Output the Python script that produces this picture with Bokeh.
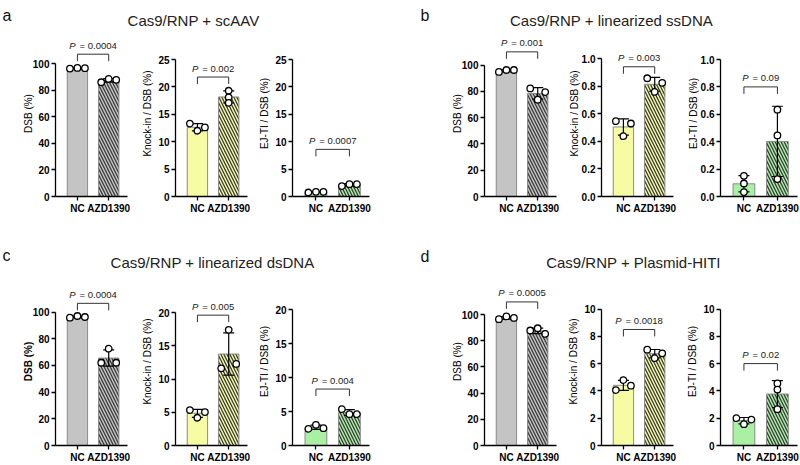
import numpy as np
from bokeh.plotting import figure
from bokeh.layouts import row, column
from bokeh.models import Range1d, FixedTicker, PrintfTickFormatter, Label, ColumnDataSource
from bokeh.core.properties import value
from bokeh.embed import file_html
from bokeh.resources import INLINE

# ---------------- data ----------------
groups = ["NC", "AZD1390"]
panel_letters = ["a", "b", "c", "d"]
panel_titles = ["Cas9/RNP + scAAV", "Cas9/RNP + linearized ssDNA",
                "Cas9/RNP + linearized dsDNA", "Cas9/RNP + Plasmid-HITI"]
y_labels = ["DSB (%)", "Knock-in / DSB (%)", "EJ-TI / DSB (%)"]

# replicate values (three per group)
a_dsb_nc = [96.2, 96.7, 96.5]
a_dsb_azd = [85.9, 88.4, 87.7]
a_ki_nc = [13.3, 12.0, 12.6]
a_ki_azd = [19.3, 18.1, 17.1]
a_ejti_nc = [0.73, 0.85, 0.85]
a_ejti_azd = [1.9, 2.25, 2.25]

b_dsb_nc = [94.7, 96.2, 96.2]
b_dsb_azd = [82.2, 73.6, 79.4]
b_ki_nc = [0.546, 0.437, 0.529]
b_ki_azd = [0.857, 0.758, 0.824]
b_ejti_nc = [0.151, 0.095, 0.032]
b_ejti_azd = [0.634, 0.446, 0.127]

c_dsb_nc = [95.75, 97.0, 96.25]
c_dsb_azd = [62.0, 72.5, 62.0]
c_ki_nc = [5.33, 4.17, 5.03]
c_ki_azd = [11.6, 17.4, 12.26]
c_ejti_nc = [2.45, 3.04, 2.55]
c_ejti_azd = [5.34, 4.6, 4.6]

d_dsb_nc = [96.4, 98.5, 97.4]
d_dsb_azd = [87.8, 89.5, 85.2]
d_ki_nc = [4.06, 4.79, 4.38]
d_ki_azd = [7.02, 6.4, 6.75]
d_ejti_nc = [2.0, 1.56, 1.9]
d_ejti_azd = [4.55, 4.1, 2.66]

# P values
a_p = ["0.0004", "0.002", "0.0007"]
b_p = ["0.001", "0.003", "0.09"]
c_p = ["0.0004", "0.005", "0.004"]
d_p = ["0.0005", "0.0018", "0.02"]

# y-axis ticks
a_ticks = [[0, 20, 40, 60, 80, 100], [0, 5, 10, 15, 20, 25], [0, 5, 10, 15, 20, 25]]
b_ticks = [[0, 20, 40, 60, 80, 100], [0, 0.2, 0.4, 0.6, 0.8, 1.0], [0, 0.2, 0.4, 0.6, 0.8, 1.0]]
c_ticks = [[0, 20, 40, 60, 80, 100], [0, 5, 10, 15, 20], [0, 5, 10, 15, 20]]
d_ticks = [[0, 20, 40, 60, 80, 100], [0, 2, 4, 6, 8, 10], [0, 2, 4, 6, 8, 10]]

# bracket levels (data units)
a_bracket = [107, 21.8, 8.6]
b_bracket = [110, 0.94, 0.80]
c_bracket = [106.5, 19.6, 8.3]
d_bracket = [109.6, 8.5, 6.0]

# ---------------- style / layout ----------------
FONT = "Liberation Sans"
fills = ["#c4c4c4", "#f6fca4", "#a9f0a4"]
outline = "#8a8a8a"
hatch_col = "#3a3a3a"
XR = (0.3, 2.6)
TICK_FS = 10
LABEL_FS = 10

panels = [
    dict(data=[(a_dsb_nc, a_dsb_azd), (a_ki_nc, a_ki_azd), (a_ejti_nc, a_ejti_azd)],
         p=a_p, ticks=a_ticks, bracket=a_bracket, spans=[133, 137, 137],
         lefts=[55, 40, 40], frames=[72, 72, 77], rights=[8, 5, 31], bold=[False] * 3,
         letter_xy=(2, 15), title_xy=(193, 20)),
    dict(data=[(b_dsb_nc, b_dsb_azd), (b_ki_nc, b_ki_azd), (b_ejti_nc, b_ejti_azd)],
         p=b_p, ticks=b_ticks, bracket=b_bracket, spans=[131.5, 138, 137],
         lefts=[84, 40, 42], frames=[72, 72, 77], rights=[5, 5, 3], bold=[False] * 3,
         letter_xy=(20, 15), title_xy=(211, 20)),
    dict(data=[(c_dsb_nc, c_dsb_azd), (c_ki_nc, c_ki_azd), (c_ejti_nc, c_ejti_azd)],
         p=c_p, ticks=c_ticks, bracket=c_bracket, spans=[133.5, 133, 136],
         lefts=[55, 40, 40], frames=[72, 72, 77], rights=[8, 5, 31], bold=[True, False, False],
         letter_xy=(2, 23), title_xy=(212, 30)),
    dict(data=[(d_dsb_nc, d_dsb_azd), (d_ki_nc, d_ki_azd), (d_ejti_nc, d_ejti_azd)],
         p=d_p, ticks=d_ticks, bracket=d_bracket, spans=[131, 136.5, 136.5],
         lefts=[84, 40, 42], frames=[72, 72, 77], rights=[5, 5, 3], bold=[False] * 3,
         letter_xy=(20, 24), title_xy=(233, 30)),
]

CW = {"P": 0.667, " ": 0.278, "=": 0.584, ".": 0.278}


def text_w(s, fs):
    return sum(CW.get(ch, 0.556) for ch in s) * fs


def spread(vals, pxu, xpx):
    v = np.array(vals)
    d = np.abs(v[:, None] - v[None, :]) * pxu
    np.fill_diagonal(d, 1e9)
    if d.min() < 5:
        return (np.arange(len(vals)) - (len(vals) - 1) / 2) * 7.5 / xpx
    return np.zeros(len(vals))


def subplot(nc, azd, metric, ticks, span, bracket, ptxt, L, FW, R, H, B, bold):
    frame_h = H - B
    ymax = ticks[-1]
    pxu = span / ymax
    y_end = frame_h / pxu
    xpx = FW / (XR[1] - XR[0])
    p = figure(width=L + FW + R, height=H, x_range=Range1d(*XR), y_range=Range1d(0, y_end),
               output_backend="svg", toolbar_location=None, title=None,
               min_border_left=L, min_border_right=R, min_border_top=0, min_border_bottom=B)
    p.outline_line_color = None
    p.grid.visible = False
    p.background_fill_color = "white"

    xs = np.arange(1, len(groups) + 1)
    sets = [nc, azd]
    means = [float(np.mean(s)) for s in sets]
    sds = [float(np.std(s, ddof=1)) for s in sets]

    src_nc = ColumnDataSource(dict(x=[xs[0]], top=[means[0]]))
    src_az = ColumnDataSource(dict(x=[xs[1]], top=[means[1]]))
    p.vbar(x="x", top="top", width=0.65, source=src_nc, fill_color=fills[metric],
           line_color=outline, line_width=1)
    p.vbar(x="x", top="top", width=0.65, source=src_az, fill_color=fills[metric],
           line_color=outline, line_width=1, hatch_pattern="left_diagonal_line",
           hatch_color=hatch_col, hatch_weight=1.3, hatch_scale=6)

    cap = 5.5 / xpx
    lo = [m - s for m, s in zip(means, sds)]
    hi = [m + s for m, s in zip(means, sds)]
    p.segment(x0=list(xs), y0=lo, x1=list(xs), y1=hi, line_color="black", line_width=1.2)
    p.segment(x0=list(xs - cap), y0=hi, x1=list(xs + cap), y1=hi, line_color="black", line_width=1.2)
    p.segment(x0=list(xs - cap), y0=lo, x1=list(xs + cap), y1=lo, line_color="black", line_width=1.2)

    for xi, s in zip(xs, sets):
        off = spread(s, pxu, xpx)
        p.scatter(x=list(xi + off), y=list(s), size=6.5, marker="circle", fill_color="white",
                  line_color="black", line_width=1.3)

    leg = 7 / pxu
    p.line(x=[xs[0], xs[0], xs[1], xs[1]], y=[bracket - leg, bracket, bracket, bracket - leg],
           line_color="#333333", line_width=1)
    fs = 9.5
    rest = "= " + ptxt
    gap = 4
    pw = text_w("P", fs)
    tw = pw + gap + text_w(rest, fs)
    ty = bracket + 9 / pxu
    xm = float(xs.mean())
    p.text(x=[xm], y=[ty], text=["P"], x_offset=-tw / 2, text_align="left", text_baseline="middle",
           text_font=value(FONT), text_font_style="italic", text_font_size=f"{fs}px", text_color="#222222")
    p.text(x=[xm], y=[ty], text=[rest], x_offset=-tw / 2 + pw + gap, text_align="left",
           text_baseline="middle", text_font=value(FONT), text_font_size=f"{fs}px", text_color="#222222")

    # axes
    for ax in (p.xaxis[0], p.yaxis[0]):
        ax.axis_line_color = "black"
        ax.axis_line_width = 1.3
        ax.major_tick_line_color = "black"
        ax.major_tick_line_width = 1.3
        ax.major_tick_out = 4
        ax.major_tick_in = 0
        ax.minor_tick_line_color = None
        ax.major_label_text_font = FONT
        ax.major_label_text_font_style = "bold"
        ax.major_label_text_font_size = f"{TICK_FS}px"
        ax.major_label_text_color = "black"
        ax.major_label_standoff = 2
    p.xaxis.ticker = FixedTicker(ticks=list(xs))
    p.xaxis.major_label_overrides = {int(x): g for x, g in zip(xs, groups)}
    p.yaxis.ticker = FixedTicker(ticks=ticks)
    p.yaxis.bounds = (0, ymax)
    if isinstance(ticks[1], float):
        p.yaxis.formatter = PrintfTickFormatter(format="%.1f")
        lab = "1.0"
    else:
        lab = str(max(ticks))
    p.yaxis.axis_label = y_labels[metric]
    p.yaxis.axis_label_text_font = FONT
    p.yaxis.axis_label_text_font_size = f"{LABEL_FS}px"
    p.yaxis.axis_label_text_font_style = "bold" if bold else "normal"
    p.yaxis.axis_label_text_color = "black"
    p.yaxis.axis_label_standoff = int(round(13 - text_w(lab, TICK_FS)))
    return p


def title_fig(W, H, letter, lxy, title, txy):
    p = figure(width=W, height=H, x_range=Range1d(0, W), y_range=Range1d(0, H),
               x_axis_location=None, y_axis_location=None, min_border=0,
               toolbar_location=None, output_backend="svg", title=None)
    p.outline_line_color = None
    p.grid.visible = False
    p.add_layout(Label(x=lxy[0], y=H - lxy[1], x_units="screen", y_units="screen", text=letter,
                       text_font=FONT, text_font_size="16px", text_color="#111111",
                       text_baseline="alphabetic", text_align="left"))
    p.add_layout(Label(x=txy[0], y=H - txy[1], x_units="screen", y_units="screen", text=title,
                       text_font=FONT, text_font_size="15px", text_color="#222222",
                       text_baseline="middle", text_align="center"))
    return p


def build_panel(i, title_h, sub_h, bottom_b):
    cfg = panels[i]
    subs = []
    for m in range(3):
        nc, azd = cfg["data"][m]
        subs.append(subplot(nc, azd, m, cfg["ticks"][m], cfg["spans"][m], cfg["bracket"][m],
                            cfg["p"][m], cfg["lefts"][m], cfg["frames"][m], cfg["rights"][m],
                            sub_h, bottom_b, cfg["bold"][m]))
    t = title_fig(400, title_h, panel_letters[i], cfg["letter_xy"], panel_titles[i], cfg["title_xy"])
    return column(t, row(*subs, spacing=0), spacing=0)


top = row(build_panel(0, 30, 202, 36), build_panel(1, 30, 202, 36), spacing=0)
bottom = row(build_panel(2, 45, 188, 20), build_panel(3, 45, 188, 20), spacing=0)
layout = column(top, bottom, spacing=0)

open("out.html", "w").write(file_html(layout, INLINE))
